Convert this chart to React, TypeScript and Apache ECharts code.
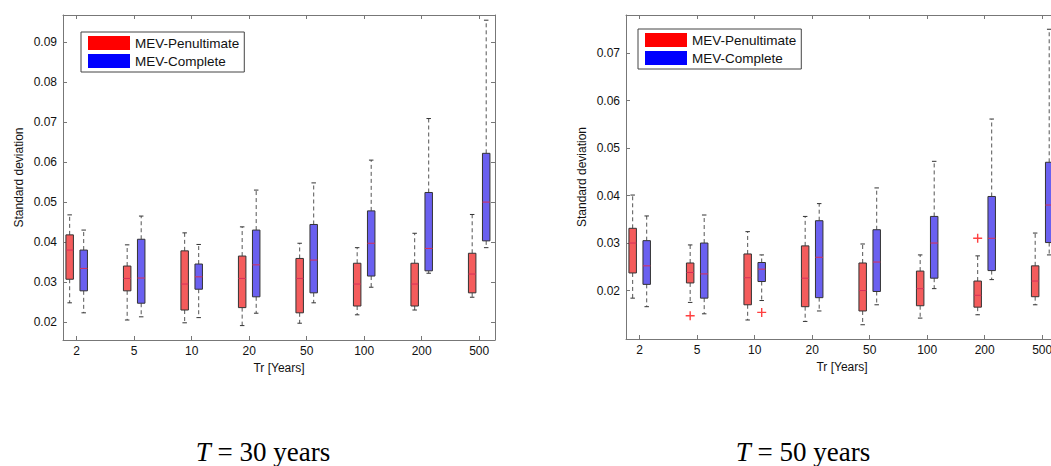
import React, { useEffect, useRef } from "react";
import * as echarts from "echarts";

// Return periods (category labels) and their axis positions
const trLabels = ["2", "5", "10", "20", "50", "100", "200", "500"];
const positions = [1, 2, 3, 4, 5, 6, 7, 8];

// Each row: [lower whisker, Q1, median, Q3, upper whisker]
const t30Penultimate = [
  [0.0248, 0.0307, 0.038, 0.0418, 0.0468],
  [0.0205, 0.0278, 0.0309, 0.034, 0.0393],
  [0.0198, 0.023, 0.0295, 0.0378, 0.0423],
  [0.0191, 0.0236, 0.0309, 0.0365, 0.0438],
  [0.0197, 0.0223, 0.0309, 0.0359, 0.0397],
  [0.0218, 0.024, 0.0295, 0.0347, 0.0386],
  [0.023, 0.024, 0.0295, 0.0347, 0.0422],
  [0.0262, 0.0273, 0.032, 0.0372, 0.0469],
];
const t30Complete = [
  [0.0223, 0.0278, 0.0334, 0.038, 0.043],
  [0.0213, 0.0247, 0.031, 0.0407, 0.0465],
  [0.0211, 0.0282, 0.0313, 0.0345, 0.0394],
  [0.0222, 0.0263, 0.0343, 0.043, 0.053],
  [0.0248, 0.0273, 0.0355, 0.0444, 0.0548],
  [0.0287, 0.0315, 0.0397, 0.0478, 0.0605],
  [0.0322, 0.0328, 0.0384, 0.0524, 0.0709],
  [0.0386, 0.0403, 0.05, 0.0622, 0.0955],
];
const t50Penultimate = [
  [0.0184, 0.0237, 0.03, 0.0331, 0.0401],
  [0.0175, 0.0216, 0.0238, 0.0258, 0.0296],
  [0.0138, 0.017, 0.0227, 0.0277, 0.0324],
  [0.0135, 0.0166, 0.0226, 0.0294, 0.0356],
  [0.0128, 0.0157, 0.02, 0.0258, 0.0298],
  [0.0142, 0.0168, 0.0204, 0.0241, 0.0275],
  [0.0149, 0.0165, 0.019, 0.022, 0.0273],
  [0.017, 0.0187, 0.022, 0.0252, 0.0321],
];
const t50Complete = [
  [0.0166, 0.0213, 0.0252, 0.0305, 0.0357],
  [0.0151, 0.0184, 0.0235, 0.03, 0.0359],
  [0.0179, 0.0219, 0.0245, 0.0259, 0.0275],
  [0.0157, 0.0185, 0.027, 0.0347, 0.0383],
  [0.017, 0.0198, 0.026, 0.0328, 0.0416],
  [0.0204, 0.0226, 0.03, 0.0356, 0.0472],
  [0.0223, 0.0242, 0.031, 0.0398, 0.0561],
  [0.0275, 0.0301, 0.038, 0.047, 0.075],
];
// Outliers (T = 50): position index, value, group (0 = Penultimate, 1 = Complete)
const t50OutlierPos = [2, 3, 7];
const t50OutlierVal = [0.0147, 0.0154, 0.031];
const t50OutlierGroup = [0, 1, 0];

const t30Ticks = [0.02, 0.03, 0.04, 0.05, 0.06, 0.07, 0.08, 0.09];
const t50Ticks = [0.02, 0.03, 0.04, 0.05, 0.06, 0.07];

const PEN = "MEV-Penultimate";
const COM = "MEV-Complete";
const OFFSET = 0.122;
const FONT = "'Liberation Sans', Arial, Helvetica, sans-serif";
const SERIF = "'Liberation Serif', 'DejaVu Serif', serif";

function boxRender(offset: number, fill: string) {
  return (params: any, api: any) => {
    const x = api.value(0) + offset;
    const lo = api.coord([x, api.value(1)]);
    const q1 = api.coord([x, api.value(2)]);
    const med = api.coord([x, api.value(3)]);
    const q3 = api.coord([x, api.value(4)]);
    const hi = api.coord([x, api.value(5)]);
    const w = api.size([0.13, 0])[0];
    const cx = lo[0];
    const cap = w * 0.3;
    const dash = { stroke: "#555", lineWidth: 1, lineDash: [4, 3] };
    const solid = { stroke: "#333", lineWidth: 1 };
    return {
      type: "group",
      children: [
        { type: "line", shape: { x1: cx, y1: q3[1], x2: cx, y2: hi[1] }, style: dash },
        { type: "line", shape: { x1: cx, y1: q1[1], x2: cx, y2: lo[1] }, style: dash },
        { type: "line", shape: { x1: cx - cap, y1: hi[1], x2: cx + cap, y2: hi[1] }, style: solid },
        { type: "line", shape: { x1: cx - cap, y1: lo[1], x2: cx + cap, y2: lo[1] }, style: solid },
        {
          type: "rect",
          shape: { x: cx - w / 2, y: q3[1], width: w, height: q1[1] - q3[1] },
          style: { fill, stroke: "#333", lineWidth: 1 },
        },
        {
          type: "line",
          shape: { x1: cx - w / 2, y1: med[1], x2: cx + w / 2, y2: med[1] },
          style: { stroke: "#d8305a", lineWidth: 1 },
        },
      ],
    };
  };
}

function toData(rows: number[][]) {
  return positions.map((p, i) => [p, ...rows[i]]);
}

const X_MIN = 0.762;
const X_MAX = 8.275;

function xAxes(gridIndex: number) {
  const common = {
    type: "value",
    gridIndex,
    min: X_MIN,
    max: X_MAX,
    splitLine: { show: false },
    axisLine: { show: true, onZero: false, lineStyle: { color: "#777", width: 1 } },
    axisTick: { show: true, inside: true, length: 4, customValues: positions, lineStyle: { color: "#777" } },
  };
  return [
    {
      ...common,
      position: "bottom",
      axisLabel: {
        show: true,
        customValues: positions,
        formatter: (v: number) => trLabels[Math.round(v) - 1],
        color: "#111",
        fontSize: 12,
        fontFamily: FONT,
        margin: 5,
      },
      name: "Tr [Years]",
      nameLocation: "middle",
      nameGap: 19,
      nameTextStyle: { color: "#111", fontSize: 12, fontFamily: FONT },
    },
    { ...common, position: "top", axisLabel: { show: false } },
  ];
}

function yAxes(gridIndex: number, min: number, max: number, ticks: number[]) {
  const common = {
    type: "value",
    gridIndex,
    min,
    max,
    splitLine: { show: false },
    axisLine: { show: true, onZero: false, lineStyle: { color: "#777", width: 1 } },
    axisTick: { show: true, inside: true, length: 4, customValues: ticks, lineStyle: { color: "#777" } },
  };
  return [
    {
      ...common,
      position: "left",
      axisLabel: {
        show: true,
        customValues: ticks,
        formatter: (v: number) => v.toFixed(2),
        color: "#111",
        fontSize: 12,
        fontFamily: FONT,
        margin: 6,
      },
      name: "Standard deviation",
      nameLocation: "middle",
      nameGap: 38,
      nameTextStyle: { color: "#111", fontSize: 12, fontFamily: FONT },
    },
    { ...common, position: "right", axisLabel: { show: false } },
  ];
}

function legendAt(left: number, top: number) {
  return {
    left,
    top,
    orient: "vertical",
    icon: "rect",
    itemWidth: 42,
    itemHeight: 14,
    itemGap: 4,
    padding: [4, 5, 4, 7],
    borderColor: "#444",
    borderWidth: 1,
    backgroundColor: "#fff",
    selectedMode: false,
    textStyle: { color: "#111", fontSize: 13.5, fontFamily: FONT },
    data: [
      { name: PEN, itemStyle: { color: "#ff0000", borderWidth: 0 } },
      { name: COM, itemStyle: { color: "#0000ff", borderWidth: 0 } },
    ],
  };
}

function caption(x: number, text: string) {
  return {
    type: "text",
    x,
    y: 452,
    style: {
      text,
      align: "center",
      verticalAlign: "middle",
      fill: "#000",
      font: `27px ${SERIF}`,
      rich: {
        i: { fontStyle: "italic", fontSize: 27, fontFamily: SERIF, fill: "#000" },
        s: { fontSize: 27, fontFamily: SERIF, fill: "#000" },
      },
    },
  };
}

export default function App() {
  const ref = useRef<HTMLDivElement>(null);

  useEffect(() => {
    if (!ref.current) return;
    const chart = echarts.init(ref.current, undefined, { renderer: "svg" });

    const outlierData = t50OutlierPos.map((p, i) => [
      p + (t50OutlierGroup[i] === 0 ? -OFFSET : OFFSET),
      t50OutlierVal[i],
    ]);

    const option: any = {
      animation: false,
      backgroundColor: "#fff",
      grid: [
        { left: 63, top: 15, width: 432, height: 325, show: false, outerBoundsMode: "none", containLabel: false },
        { left: 626, top: 15, width: 432, height: 324, show: false, outerBoundsMode: "none", containLabel: false },
      ],
      xAxis: [...xAxes(0), ...xAxes(1)],
      yAxis: [
        ...yAxes(0, 0.0155, 0.0968, t30Ticks),
        ...yAxes(1, 0.0098, 0.078, t50Ticks),
      ],
      legend: [legendAt(81, 32), legendAt(638, 29)],
      series: [
        {
          type: "custom",
          name: PEN,
          xAxisIndex: 0,
          yAxisIndex: 0,
          itemStyle: { color: "#ff0000" },
          renderItem: boxRender(-OFFSET, "#f45c5c"),
          encode: { x: 0, y: [1, 2, 3, 4, 5] },
          data: toData(t30Penultimate),
        },
        {
          type: "custom",
          name: COM,
          xAxisIndex: 0,
          yAxisIndex: 0,
          itemStyle: { color: "#0000ff" },
          renderItem: boxRender(OFFSET, "#6a60f0"),
          encode: { x: 0, y: [1, 2, 3, 4, 5] },
          data: toData(t30Complete),
        },
        {
          type: "custom",
          name: PEN,
          xAxisIndex: 2,
          yAxisIndex: 2,
          itemStyle: { color: "#ff0000" },
          renderItem: boxRender(-OFFSET, "#f45c5c"),
          encode: { x: 0, y: [1, 2, 3, 4, 5] },
          data: toData(t50Penultimate),
        },
        {
          type: "custom",
          name: COM,
          xAxisIndex: 2,
          yAxisIndex: 2,
          itemStyle: { color: "#0000ff" },
          renderItem: boxRender(OFFSET, "#6a60f0"),
          encode: { x: 0, y: [1, 2, 3, 4, 5] },
          data: toData(t50Complete),
        },
        {
          type: "scatter",
          name: "Outliers",
          xAxisIndex: 2,
          yAxisIndex: 2,
          symbol: "path://M0 3.8H9V5.2H0Z M3.8 0H5.2V9H3.8Z",
          symbolSize: 9,
          itemStyle: { color: "#ff1010" },
          data: outlierData,
        },
      ],
      graphic: [caption(263, "{i|T}{s| = 30 years}"), caption(803, "{i|T}{s| = 50 years}")],
    };

    chart.setOption(option);
    return () => chart.dispose();
  }, []);

  return (
    <div
      ref={ref}
      style={{ position: "fixed", left: 0, top: 0, width: 1051, height: 466, background: "#fff" }}
    />
  );
}
